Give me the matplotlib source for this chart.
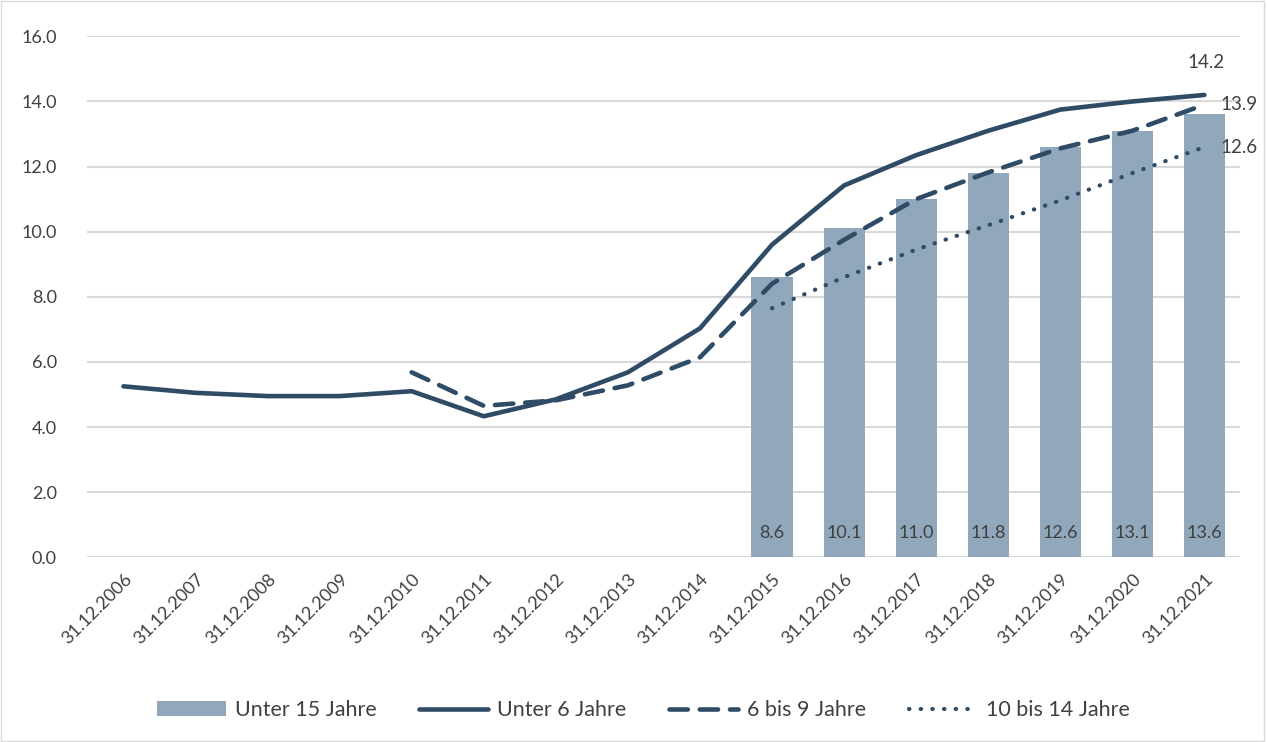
import matplotlib.pyplot as plt
import numpy as np

plt.rcParams['font.family'] = ['Lato', 'DejaVu Sans']

dates = ['31.12.2006', '31.12.2007', '31.12.2008', '31.12.2009', '31.12.2010',
         '31.12.2011', '31.12.2012', '31.12.2013', '31.12.2014', '31.12.2015',
         '31.12.2016', '31.12.2017', '31.12.2018', '31.12.2019', '31.12.2020',
         '31.12.2021']

# Unter 15 Jahre (bars, 2015-2021)
under15 = [np.nan] * 9 + [8.6, 10.1, 11.0, 11.8, 12.6, 13.1, 13.6]
# Unter 6 Jahre
under6 = [5.25, 5.05, 4.95, 4.95, 5.1, 4.33, 4.85, 5.68, 7.03, 9.6,
          11.42, 12.35, 13.1, 13.75, 14.0, 14.2]
# 6 bis 9 Jahre (from 2010)
age6_9 = [np.nan] * 4 + [5.68, 4.65, 4.82, 5.28, 6.14, 8.4,
                         9.75, 11.0, 11.82, 12.56, 13.1, 13.9]
# 10 bis 14 Jahre (from 2015)
age10_14 = [np.nan] * 9 + [7.65, 8.6, 9.45, 10.2, 10.96, 11.8, 12.6]

line_col = '#2F4B66'
bar_col = '#91A8BC'
text_col = '#404040'

fig = plt.figure(figsize=(12.67, 7.42), dpi=100)
ax = fig.add_axes([0.069, 0.249, 0.910, 0.702])
x = np.arange(len(dates))

ax.bar(x, under15, width=0.57, color=bar_col, label='Unter 15 Jahre', zorder=2)
ax.plot(x, under6, color=line_col, lw=3.3, solid_capstyle='round',
        solid_joinstyle='round', label='Unter 6 Jahre', zorder=3)
ax.plot(x, age6_9, color=line_col, lw=3.3, linestyle=(0, (4, 2.6)),
        dash_capstyle='round', label='6 bis 9 Jahre', zorder=3)
ax.plot(x, age10_14, color=line_col, lw=3.0, linestyle=(0, (0.1, 2.7)),
        dash_capstyle='round', label='10 bis 14 Jahre', zorder=3)

# bar value labels at the bottom of the bars
for xi, v in zip(x, under15):
    if not np.isnan(v):
        ax.text(xi, 0.75, f'{v:.1f}', ha='center', va='center', fontsize=13,
                color=text_col, zorder=4)

# end-of-line labels
ax.text(x[-1] + 0.02, under6[-1] + 1.0, f'{under6[-1]:.1f}', ha='center',
        va='center', fontsize=13.5, color=text_col)
ax.text(x[-1] + 0.22, age6_9[-1], f'{age6_9[-1]:.1f}', ha='left',
        va='center', fontsize=13.5, color=text_col)
ax.text(x[-1] + 0.22, age10_14[-1], f'{age10_14[-1]:.1f}', ha='left',
        va='center', fontsize=13.5, color=text_col)

ax.set_xlim(-0.5, 15.5)
ax.set_ylim(0, 16)
ax.set_yticks(np.arange(0, 17, 2))
ax.set_yticklabels([f'{v:.1f}' for v in np.arange(0, 17, 2)])
ax.set_xticks(x)
ax.set_xticklabels(dates, rotation=45, ha='right', rotation_mode='anchor')
ax.tick_params(axis='both', length=0, labelsize=13, labelcolor=text_col)
ax.tick_params(axis='x', pad=10)
ax.tick_params(axis='y', pad=22)
ax.grid(axis='y', color='#D9D9D9', lw=1.5, zorder=0)
ax.set_axisbelow(True)
for s in ax.spines.values():
    s.set_visible(False)

handles, labels = ax.get_legend_handles_labels()
names = ['Unter 15 Jahre', 'Unter 6 Jahre', '6 bis 9 Jahre', '10 bis 14 Jahre']
h = [handles[labels.index(n)] for n in names]
fig.legend(h, names, loc='center', bbox_to_anchor=(0.508, 0.043), ncol=4,
           frameon=False, fontsize=15.5, handlelength=3.2, handletextpad=0.4,
           columnspacing=2.0, labelcolor=text_col)

fig.patches.append(plt.Rectangle((0.001, 0.001), 0.997, 0.997, transform=fig.transFigure,
                                 fill=False, edgecolor='#D9D9D9', lw=1))

fig.savefig('out.png', dpi=100)
